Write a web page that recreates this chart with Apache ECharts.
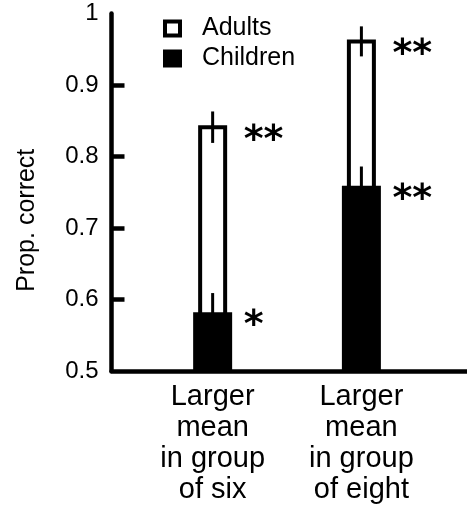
<!DOCTYPE html>
<html><head><meta charset="utf-8">
<script src="https://cdn.jsdelivr.net/npm/echarts@6/dist/echarts.min.js"></script>
<style>html,body{margin:0;padding:0;background:#fff}#c{width:467px;height:514px}</style>
</head><body><div id="c"></div>
<script>
// ---- data ----
const categories = ['Larger\nmean\nin group\nof six', 'Larger\nmean\nin group\nof eight'];
const seriesNames = ['Adults', 'Children'];
const adults = [0.841, 0.961];
const adultsErr = [0.022, 0.021];
const children = [0.582, 0.759];
const childrenErr = [0.027, 0.027];
const adultsSig = ['**', '**'];
const childrenSig = ['*', '**'];
const yTickLabels = [0.5, 0.6, 0.7, 0.8, 0.9, 1];
const yTickMarks = [0.6, 0.7, 0.8, 0.9];

const FONT = '"Liberation Sans", Arial, Helvetica, sans-serif';
const Y_MIN = 0.5;

function makeRenderer(barWidth, style, sig) {
  return function (params, api) {
    const i = params.dataIndex;
    const x = api.value(0), v = api.value(1), e = api.value(2);
    const top = api.coord([x, v]);
    const base = api.coord([x, Y_MIN]);
    const eTop = api.coord([x, v + e]);
    const eBot = api.coord([x, v - e]);
    return {
      type: 'group',
      children: [
        { type: 'rect', shape: { x: top[0] - barWidth / 2, y: top[1], width: barWidth, height: base[1] - top[1] }, style: style },
        { type: 'line', shape: { x1: top[0], y1: eTop[1], x2: top[0], y2: eBot[1] }, style: { stroke: '#000', lineWidth: 3 } },
        { type: 'text', x: top[0] + 31, y: top[1] + 14,
          style: { text: sig[i], fill: '#000', font: 'bold 38px "DejaVu Sans", sans-serif', textAlign: 'left', textVerticalAlign: 'middle' } }
      ]
    };
  };
}

const chart = echarts.init(document.getElementById('c'), null, { renderer: 'canvas' });
chart.setOption({
  animation: false,
  backgroundColor: '#fff',
  grid: { left: 111.5, right: 0, top: 13.5, bottom: 143, containLabel: false },
  legend: {
    orient: 'vertical', left: 158, top: 11, itemWidth: 15, itemHeight: 14, itemGap: 5,
    selectedMode: false,
    textStyle: { fontFamily: FONT, fontSize: 25, color: '#000', lineHeight: 25, padding: [0, 0, 0, 17] },
    data: [
      { name: seriesNames[0], icon: 'rect', itemStyle: { color: '#fff', borderColor: '#000', borderWidth: 4 } },
      { name: seriesNames[1], icon: 'rect', itemStyle: { color: '#000', borderColor: '#000', borderWidth: 4 } }
    ]
  },
  xAxis: {
    type: 'value', min: -0.68, max: 1.71,
    splitLine: { show: false },
    axisLine: { show: true, onZero: false, lineStyle: { color: '#000', width: 4.5 } },
    axisTick: { show: false },
    axisLabel: {
      customValues: [0, 1],
      formatter: function (v) { return categories[Math.round(v)]; },
      fontFamily: FONT, fontSize: 29, lineHeight: 31, color: '#000', margin: 10
    }
  },
  yAxis: {
    type: 'value', min: 0.5, max: 1,
    name: 'Prop. correct', nameLocation: 'middle', nameRotate: 90, nameGap: 72,
    nameTextStyle: { fontFamily: FONT, fontSize: 25, color: '#000', padding: [0, 56, 0, 0] },
    splitLine: { show: false },
    axisLine: { show: true, onZero: false, lineStyle: { color: '#000', width: 4.5 } },
    axisTick: { show: true, inside: true, length: 13, customValues: yTickMarks, lineStyle: { color: '#000', width: 4.5 } },
    axisLabel: {
      customValues: yTickLabels,
      formatter: function (v) { return String(v); },
      fontFamily: FONT, fontSize: 24, color: '#000', margin: 13, padding: [10, 0, 0, 0]
    }
  },
  series: [
    {
      name: seriesNames[0], type: 'custom',
      renderItem: makeRenderer(25, { fill: '#fff', stroke: '#000', lineWidth: 4 }, adultsSig),
      encode: { x: 0, y: 1 },
      data: adults.map((v, i) => [i, v, adultsErr[i]])
    },
    {
      name: seriesNames[1], type: 'custom',
      renderItem: makeRenderer(39, { fill: '#000' }, childrenSig),
      encode: { x: 0, y: 1 },
      data: children.map((v, i) => [i, v, childrenErr[i]])
    }
  ]
});
</script>
</body></html>
